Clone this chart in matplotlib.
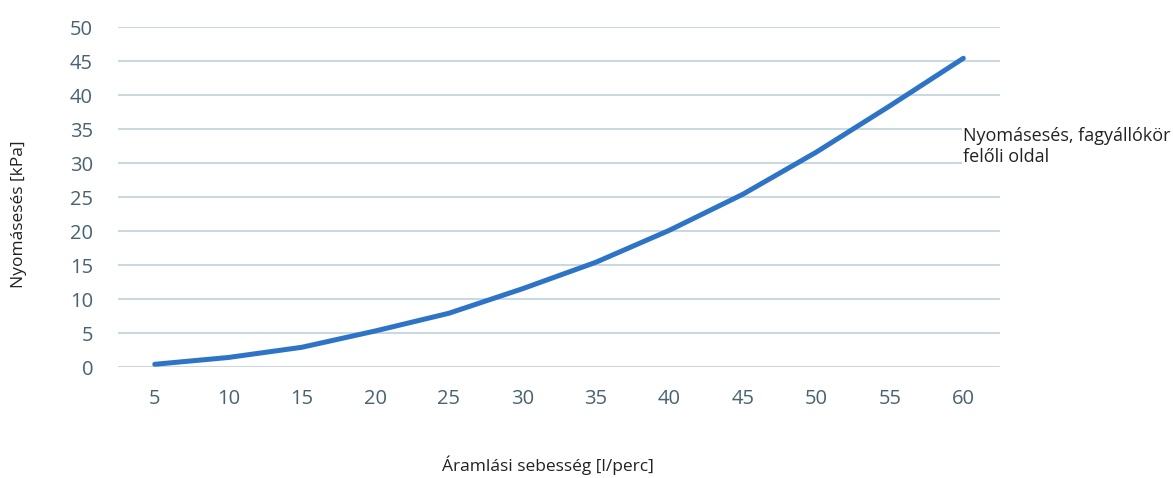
import matplotlib.pyplot as plt

flow = [5, 10, 15, 20, 25, 30, 35, 40, 45, 50, 55, 60]
pressure_drop = [0.4, 1.4, 2.9, 5.3, 7.9, 11.5, 15.4, 20.1, 25.4, 31.6, 38.4, 45.4]
yticks = [0, 5, 10, 15, 20, 25, 30, 35, 40, 45, 50]

series_name = "Nyomásesés, fagyállókör\nfelőli oldal"
xlabel = "Áramlási sebesség [l/perc]"
ylabel = "Nyomásesés [kPa]"

tick_color = '#486271'
grid_color = '#ccd8e0'
line_color = '#2e74c6'

fig = plt.figure(figsize=(11.73, 4.78), dpi=100)
ax = fig.add_axes([0.1006, 0.2322, 0.752, 0.7113])

ax.plot(flow, pressure_drop, color=line_color, lw=3.6, solid_capstyle='round',
        solid_joinstyle='round', clip_on=False, zorder=3)

ax.set_xlim(2.5, 62.5)
ax.set_ylim(0, 50)
ax.set_xticks(flow)
ax.set_yticks(yticks)
ax.yaxis.grid(True, color=grid_color, lw=1.5)
ax.set_axisbelow(True)
for s in ax.spines.values():
    s.set_visible(False)
ax.tick_params(length=0, labelsize=14.5, colors=tick_color)
ax.tick_params(axis='y', pad=18)
ax.tick_params(axis='x', pad=16)
for lab in ax.get_xticklabels() + ax.get_yticklabels():
    lab.set_family('Open Sans')

fig.text(0.467, 0.027, xlabel, ha='center', va='center', fontsize=12.5,
         family='Open Sans', color='#222222')
fig.text(0.016, 0.552, ylabel, ha='center', va='center', rotation=90,
         fontsize=12.5, family='Open Sans', color='#222222')
fig.text(0.821, 0.694, series_name, ha='left', va='center', fontsize=13,
         family='Open Sans', color='#222222', linespacing=1.25,
         bbox=dict(fc='white', ec='none', pad=1))

fig.savefig('out.png', dpi=100)
